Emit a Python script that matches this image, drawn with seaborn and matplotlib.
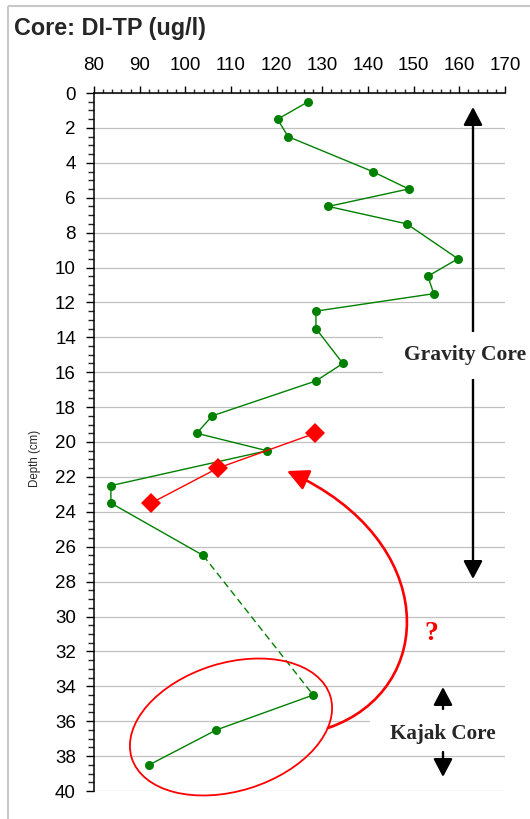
import numpy as np
import pandas as pd
import matplotlib
matplotlib.use('Agg')
import matplotlib.pyplot as plt
import seaborn as sns
from matplotlib.patches import Ellipse, FancyArrowPatch, Rectangle
from matplotlib.path import Path
from matplotlib.transforms import Affine2D
from matplotlib.ticker import MultipleLocator

# ---- data ----
gravity_depth = [0.5, 1.5, 2.5, 4.5, 5.5, 6.5, 7.5, 9.5, 10.5, 11.5, 12.5, 13.5,
                 15.5, 16.5, 18.5, 19.5, 20.5, 22.5, 23.5, 26.5]
gravity_tp = [126.9, 120.2, 122.5, 141.0, 148.9, 131.3, 148.5, 159.7, 153.1, 154.4,
              128.6, 128.6, 134.5, 128.6, 105.9, 102.5, 117.9, 83.7, 83.7, 103.9]
kajak_depth = [34.5, 36.5, 38.5]
kajak_tp = [128.0, 106.8, 92.1]
shift_depth = [19.5, 21.5, 23.5]
shift_tp = [128.4, 107.1, 92.5]

x_ticks = [80, 90, 100, 110, 120, 130, 140, 150, 160, 170]
y_ticks = list(range(0, 41, 2))

sns.set_style('white')
plt.rcParams['font.family'] = ['Liberation Sans', 'DejaVu Sans']

W, H = 530, 819
fig = plt.figure(figsize=(W / 100, H / 100), dpi=100)
ax = fig.add_axes([94 / W, 1 - 791 / H, (505 - 94) / W, (791 - 93) / H])

GREEN = '#008000'
sns.lineplot(x=gravity_tp, y=gravity_depth, sort=False, estimator=None, color=GREEN,
             lw=1.0, marker='o', markersize=6.5, markeredgewidth=0, ax=ax, zorder=4)
sns.lineplot(x=kajak_tp, y=kajak_depth, sort=False, estimator=None, color=GREEN,
             lw=1.0, marker='o', markersize=6.5, markeredgewidth=0, ax=ax, zorder=4)
sns.lineplot(x=[gravity_tp[-1], kajak_tp[0]], y=[gravity_depth[-1], kajak_depth[0]],
             sort=False, estimator=None, color=GREEN, lw=1.0, ls='--', ax=ax, zorder=3)
ax.lines[-1].set_dashes((5, 3))
sns.lineplot(x=shift_tp, y=shift_depth, sort=False, estimator=None, color='red',
             lw=1.0, marker='D', markersize=10, markeredgewidth=0, ax=ax, zorder=5)

ax.set_xlim(80, 170)
ax.set_ylim(40, 0)
ax.set_xticks(x_ticks)
ax.set_yticks(y_ticks)
ax.xaxis.set_minor_locator(MultipleLocator(2))
ax.yaxis.set_minor_locator(MultipleLocator(0.5))
ax.xaxis.tick_top()
ax.set_xlabel('')
ax.set_ylabel('')
ax.grid(axis='y', which='major', color='#c0c0c0', lw=0.9)
ax.grid(axis='x', visible=False)
ax.set_axisbelow(True)
for s in ['right', 'bottom']:
    ax.spines[s].set_visible(False)
for s in ['left', 'top']:
    ax.spines[s].set_color('black')
    ax.spines[s].set_linewidth(1.1)
ax.tick_params(axis='x', which='major', direction='out', length=5, width=1,
               labelsize=13.5, pad=9, colors='black')
ax.tick_params(axis='x', which='minor', direction='out', length=3, width=1)
ax.tick_params(axis='y', which='major', direction='out', length=6, width=1,
               labelsize=13.5, pad=7, colors='black', left=True)
ax.tick_params(axis='y', which='minor', direction='out', length=4, width=1, left=True)

# pixel transform (top-left origin)
pix = Affine2D().scale(1, -1).translate(0, H).scale(1 / 100) + fig.dpi_scale_trans

fig.text(14 / W, 1 - 29 / H, 'Core: DI-TP (ug/l)', fontsize=16.8, fontweight='bold',
         ha='left', va='center')
fig.text(35 / W, 1 - 458 / H, 'Depth (cm)', fontsize=8.3, rotation=90,
         ha='center', va='center')

# frame around the figure
fig.patches.append(Rectangle((8, 6), 700, 900, transform=pix, fill=False,
                             ec='#c8c8c8', lw=1.5))

serif = ['Liberation Serif', 'DejaVu Serif']
# Gravity core double arrow
arr = FancyArrowPatch((473, 107), (473, 579), transform=pix,
                      arrowstyle='<|-|>,head_length=11,head_width=5.8',
                      mutation_scale=1, lw=1.7, color='black', shrinkA=0, shrinkB=0,
                      clip_on=False, zorder=6)
fig.patches.append(arr)
fig.patches.append(Rectangle((383, 332), 147, 47, transform=pix, fc='white',
                             ec='none', zorder=7))
fig.text(465 / W, 1 - 355 / H, 'Gravity Core', fontsize=15.5, fontweight='bold',
         family=serif, ha='center', va='center', zorder=8)

# Kajak core
fig.patches.append(Rectangle((370, 712), 160, 38, transform=pix, fc='white',
                             ec='none', zorder=7))
for a, b in [((443, 709), (443, 687)), ((443, 752), (443, 777))]:
    fig.patches.append(FancyArrowPatch(a, b, transform=pix,
                                       arrowstyle='-|>,head_length=11,head_width=5.8',
                                       mutation_scale=1, lw=1.7, color='black',
                                       shrinkA=0, shrinkB=0, zorder=8))
fig.text(443 / W, 1 - 734 / H, 'Kajak Core', fontsize=15.2, fontweight='bold',
         family=serif, ha='center', va='center', zorder=8)

# red ellipse and curved arrow
fig.patches.append(Ellipse((231, 727), 208, 128, angle=-17.3, transform=pix,
                           fill=False, ec='red', lw=1.3, zorder=6))
verts = [(328, 728), (438, 690), (440, 540), (287, 471)]
codes = [Path.MOVETO, Path.CURVE4, Path.CURVE4, Path.CURVE4]
fig.patches.append(FancyArrowPatch(path=Path(verts, codes), transform=pix,
                                   arrowstyle='-|>,head_length=13,head_width=6.5',
                                   mutation_scale=1, lw=1.9, color='red', zorder=6))
fig.text(431 / W, 1 - 634 / H, '?', fontsize=20, fontweight='bold', color='red',
         family=serif, ha='center', va='center')

fig.savefig('out.png', dpi=100)
